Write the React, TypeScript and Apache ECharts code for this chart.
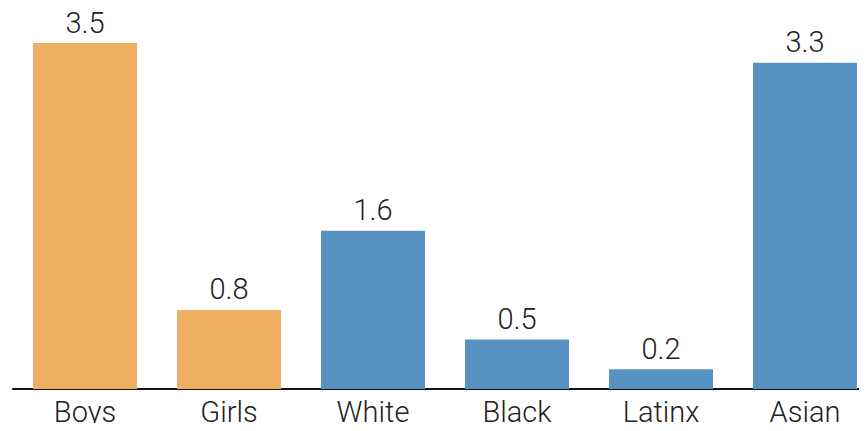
import React, { useEffect, useRef } from "react";
import * as echarts from "echarts";

const categories = ["Boys", "Girls", "White", "Black", "Latinx", "Asian"];
const values = [3.5, 0.8, 1.6, 0.5, 0.2, 3.3];
const groupColors = ["#F0B064", "#F0B064", "#5892C2", "#5892C2", "#5892C2", "#5892C2"];

const FONT = "Roboto, 'DejaVu Sans Condensed', sans-serif";

export default function App() {
  const ref = useRef<HTMLDivElement>(null);

  useEffect(() => {
    if (!ref.current) return;
    const chart = echarts.init(ref.current, undefined, { renderer: "svg" });
    chart.setOption({
      animation: false,
      grid: { left: 13, width: 864, top: 43, bottom: 42, outerBoundsMode: "none" },
      xAxis: {
        type: "category",
        data: categories,
        axisLine: { show: true, lineStyle: { color: "#111", width: 2 } },
        axisTick: { show: false },
        axisLabel: { color: "#222", fontSize: 29, fontWeight: 300, fontFamily: FONT, margin: 8 },
      },
      yAxis: {
        type: "value",
        min: 0,
        max: 3.5,
        show: false,
        splitLine: { show: false },
      },
      series: [
        {
          type: "bar",
          barWidth: 104,
          data: values.map((v, i) => ({ value: v, itemStyle: { color: groupColors[i] } })),
          label: {
            show: true,
            position: "top",
            distance: 6,
            color: "#222",
            fontSize: 29,
            fontWeight: 300,
            fontFamily: FONT,
            formatter: (p: any) => p.value.toFixed(1),
          },
        },
      ],
    });
    return () => chart.dispose();
  }, []);

  return <div ref={ref} style={{ width: 867, height: 431, margin: -8 }} />;
}
